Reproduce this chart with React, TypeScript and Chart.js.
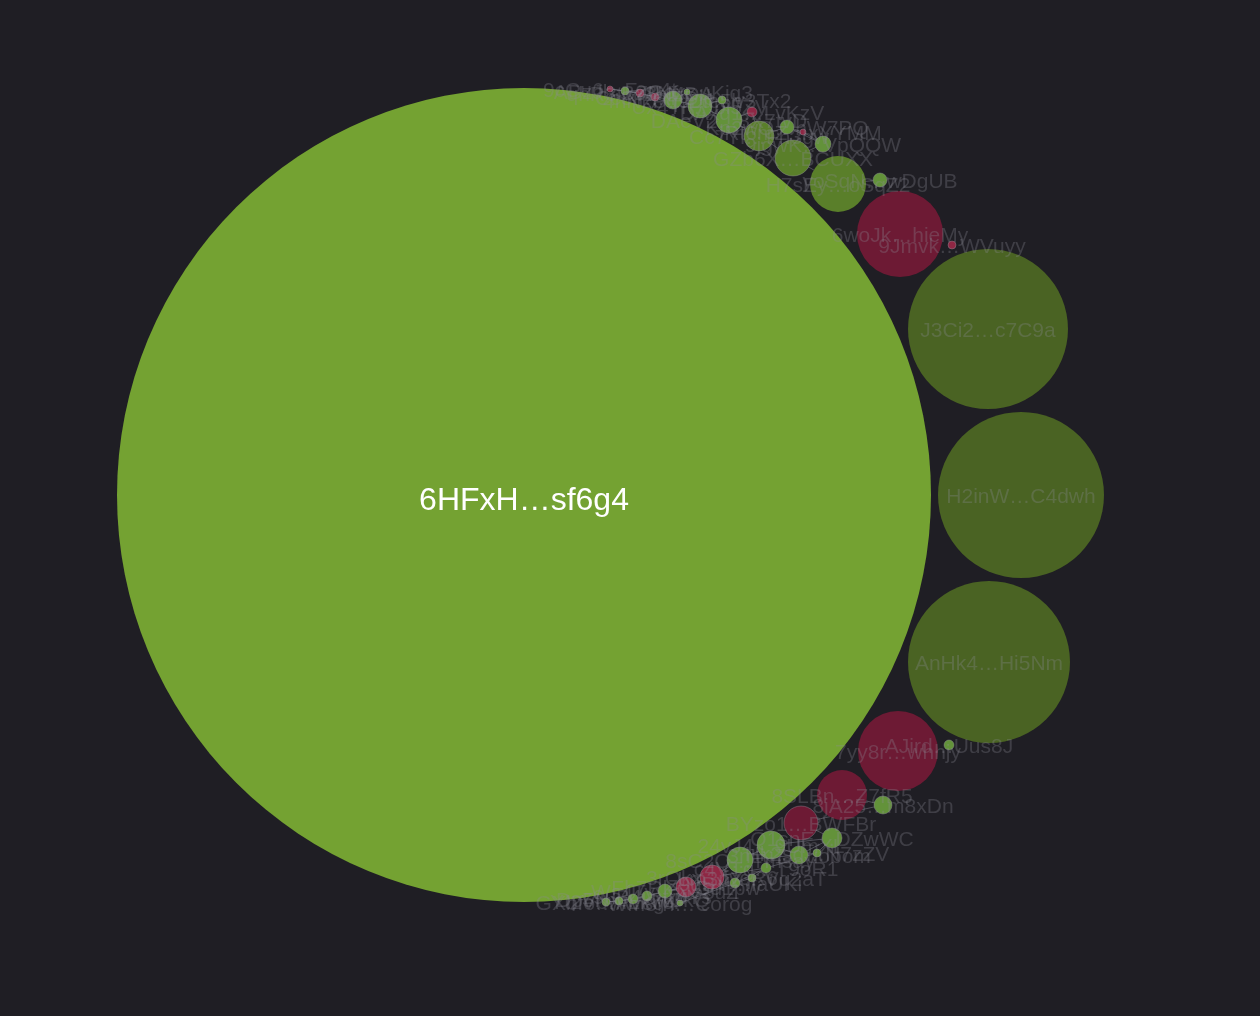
import React, { useEffect, useRef } from "react";
import { Chart, registerables } from "chart.js";

Chart.register(...registerables);

// Bubble cluster data (x, y in layout units; r = radius; kind = colour group)
const NAMES = [
  "6HFxH…sf6g4",
  "J3Ci2…c7C9a",
  "H2inW…C4dwh",
  "AnHk4…Hi5Nm",
  "6woJk…hieMy",
  "9Jmvk…WVuyy",
  "H7sEy…oSqZ2",
  "yoSqN…wDgUB",
  "GZb6X…BCUXX",
  "9jgwK…VpQQW",
  "Cc7Yl…Fh3gw",
  "Rt6mZ…xYYMM",
  "Kp2wQ…hW7PQ",
  "DAeV2…8X7tvD",
  "DAxq1…LvKzV",
  "Ux4Tn…bi5ZV",
  "4hNzU…Die5h",
  "Pq9Ld…v3Tx2",
  "Bz8Nf…uKjq3",
  "Cc8ff…tFDie",
  "qhR3t…2bMDA",
  "ABzJb…9Goxz",
  "9cCu6…Fzp4t",
  "7yy8r…whhjy",
  "AJird…Uus8J",
  "8SLBn…Z7fR5",
  "8jA25…m8xDn",
  "BYzo1…BWFBr",
  "Q1snE…DZwWC",
  "24vJ4…9UmXL",
  "3nLu7…uobom",
  "Hk2sd…N7zZV",
  "8sC2Q…Tmsay",
  "c4VTg…T9oR1",
  "3rQkx…fyqR6",
  "z9uBY…faUKi",
  "Lm3pX…Vq2aT",
  "Fh7Rk…Gd1pw",
  "Ws4Ty…Ne8uZ",
  "z9uB4…tr4Ys",
  "Dp5Nx…Hw3kQ",
  "GXbfo…AVsg4",
  "Wm8fh…Corog",
  "Yt2Vb…Lk7oP",
];

const XS = [
  524, 988, 1021, 989, 900, 952, 838, 880, 793, 823, 759, 803, 787, 729, 752, 700,
  673, 722, 687, 655, 640, 625, 610,
  898, 949, 842, 883, 801, 832, 771, 799, 817, 740, 766, 712, 735, 752, 686, 665,
  647, 633, 606, 680, 619,
];

const YS = [
  495, 329, 495, 662, 234, 245, 184, 180, 158, 144, 136, 132, 127, 120, 112, 106,
  100, 100, 92, 97, 93, 91, 89,
  751, 745, 795, 805, 823, 838, 845, 855, 853, 860, 868, 877, 883, 878, 887, 891,
  896, 899, 902, 903, 901,
];

const RS = [
  407, 80, 83, 81, 43, 4, 28, 7, 18, 8, 15, 3, 7, 13, 5, 12,
  9, 4, 3, 4, 4, 4, 3,
  40, 5, 25, 9, 17, 10, 14, 9, 4, 13, 5, 12, 5, 4, 10, 7,
  5, 5, 4, 3, 4,
];

// 0 = main, 1 = large dark green, 2 = green, 3 = red
const KINDS = [
  0, 1, 1, 1, 3, 3, 2, 2, 2, 2, 2, 3, 2, 2, 3, 2,
  2, 2, 2, 3, 3, 2, 3,
  3, 2, 3, 2, 3, 2, 2, 2, 2, 2, 2, 3, 2, 2, 3, 2,
  2, 2, 2, 2, 2,
];

// connections between holders (index pairs)
const EDGES: [number, number][] = [
  [22, 21], [21, 20], [20, 19], [19, 16], [16, 18], [18, 15], [15, 17], [17, 13],
  [13, 14], [14, 10], [10, 12], [12, 11], [11, 9], [9, 8], [8, 6], [6, 7],
  [22, 20], [21, 19], [16, 15], [15, 13], [13, 10], [10, 8], [12, 9],
  [41, 43], [43, 40], [40, 39], [39, 38], [38, 37], [37, 42], [42, 35], [35, 36],
  [36, 33], [33, 34], [34, 32], [32, 29], [29, 30], [30, 31], [31, 28], [28, 27],
  [27, 26], [26, 25], [41, 40], [39, 37], [37, 34], [35, 33], [32, 30], [29, 28],
  [30, 28], [33, 31], [36, 32],
];

const BG = "#1f1e24";

function bubbleColor(kind: number, r: number): string {
  if (kind === 0) return "#74a232";
  if (kind === 1) return "#4a6323";
  if (kind === 2) return r >= 15 ? "#5a7f2a" : "#63923a";
  return r >= 15 ? "#6d1a34" : "#8f2744";
}

const labelPlugin = {
  id: "bubbleLabels",
  afterDatasetsDraw(chart: any) {
    const ctx = chart.ctx;
    const meta = chart.getDatasetMeta(1);
    if (!meta) return;
    ctx.save();
    ctx.textAlign = "center";
    ctx.textBaseline = "middle";
    for (let i = NAMES.length - 1; i >= 1; i--) {
      const el = meta.data[i];
      if (!el) continue;
      ctx.font = "21px 'Liberation Sans', Arial, sans-serif";
      ctx.fillStyle = "rgba(140,140,150,0.3)";
      ctx.fillText(NAMES[i], el.x, el.y + 2);
    }
    const big = meta.data[0];
    if (big) {
      ctx.font = "32px 'Liberation Sans', Arial, sans-serif";
      ctx.fillStyle = "#ffffff";
      ctx.fillText(NAMES[0], big.x, big.y + 6);
    }
    ctx.restore();
  },
};

export default function App() {
  const ref = useRef<HTMLCanvasElement | null>(null);

  useEffect(() => {
    if (!ref.current) return;
    const edgeData: any[] = [];
    EDGES.forEach(([a, b]) => {
      edgeData.push({ x: XS[a], y: YS[a] });
      edgeData.push({ x: XS[b], y: YS[b] });
      edgeData.push({ x: XS[b], y: null });
    });
    const bubbles = NAMES.map((_, i) => ({ x: XS[i], y: YS[i], r: RS[i] }));
    const chart = new Chart(ref.current, {
      type: "bubble",
      data: {
        datasets: [
          {
            type: "line",
            data: edgeData,
            borderColor: "rgba(140,140,152,0.45)",
            borderWidth: 1,
            pointRadius: 0,
            spanGaps: false,
            fill: false,
            order: 2,
          } as any,
          {
            type: "bubble",
            data: bubbles,
            backgroundColor: NAMES.map((_, i) => bubbleColor(KINDS[i], RS[i])),
            borderColor: NAMES.map((_, i) =>
              RS[i] < 20 ? "rgba(150,150,160,0.4)" : "rgba(0,0,0,0)"
            ),
            borderWidth: NAMES.map((_, i) => (RS[i] < 20 ? 1 : 0)),
            hoverRadius: 0,
            order: 1,
          } as any,
        ],
      },
      options: {
        animation: false,
        responsive: true,
        maintainAspectRatio: false,
        layout: { padding: 0, autoPadding: false } as any,
        clip: false as any,
        events: [],
        plugins: {
          legend: { display: false },
          tooltip: { enabled: false },
        },
        scales: {
          x: { type: "linear", min: 0, max: 1260, display: false },
          y: { type: "linear", min: 0, max: 1016, reverse: true, display: false },
        },
      },
      plugins: [labelPlugin],
    });
    return () => chart.destroy();
  }, []);

  return (
    <div
      style={{
        position: "absolute",
        left: 0,
        top: 0,
        width: 1260,
        height: 1016,
        background: BG,
      }}
    >
      <canvas ref={ref} />
    </div>
  );
}
